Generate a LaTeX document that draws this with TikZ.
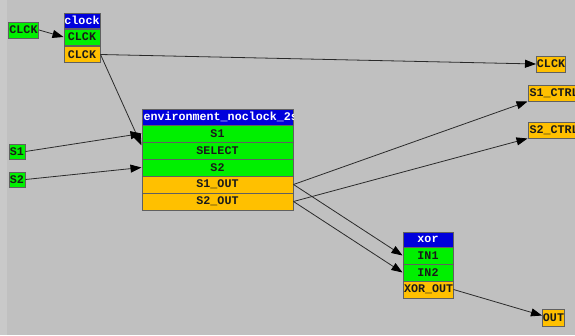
\documentclass[tikz,border=0pt]{standalone}
\usepackage{fontspec}
\setmonofont{Liberation Mono}
\usetikzlibrary{arrows.meta}
\definecolor{bg}{HTML}{C0C0C0}
\definecolor{bgl}{HTML}{C9C9C9}
\definecolor{pgreen}{HTML}{00F000}
\definecolor{porange}{HTML}{FFC000}
\definecolor{pblue}{HTML}{0000DC}
\definecolor{pframe}{HTML}{606060}
\definecolor{ptext}{HTML}{1A1A1A}
\definecolor{pline}{HTML}{2A2A2A}
\tikzset{
  cell/.style={draw=pframe, line width=1pt, inner sep=0pt, anchor=center,
    font=\ttfamily\bfseries\fontsize{11.7}{12}\selectfont, text=ptext},
  gcell/.style={cell, fill=pgreen},
  ocell/.style={cell, fill=porange},
  hcell/.style={cell, fill=pblue, text=white},
  wire/.style={draw=pline, line width=0.8pt},
  awire/.style={wire, -{Triangle[length=11pt,width=8pt,black]}},
}
\begin{document}
\begin{tikzpicture}[x=1pt,y=-1pt]
\fill[bg] (0,0) rectangle (575,335);
\fill[bgl] (0,0) rectangle (7,335);
\useasboundingbox (0,0) rectangle (575,335);

% inputs
\node[gcell, minimum width=30pt, minimum height=16pt] (inclck) at (23.5,30) {CLCK};
\node[gcell, minimum width=16pt, minimum height=15pt] (ins1) at (17,151.5) {S1};
\node[gcell, minimum width=16pt, minimum height=15pt] (ins2) at (17,179.5) {S2};

% clock block
\node[hcell, minimum width=36pt, minimum height=15pt] (clkh) at (82,20.5) {clock};
\node[gcell, minimum width=36pt, minimum height=16pt] (clkin) at (82,37) {CLCK};
\node[ocell, minimum width=36pt, minimum height=16pt] (clkout) at (82,54.5) {CLCK};

% environment block
\node[hcell, minimum width=151pt, minimum height=16pt] (envh) at (217.5,117) {};
\begin{scope}
  \clip (envh.north west) rectangle (envh.south east);
  \node[cell, draw=none, text=white, anchor=west] (envhtext) at (143,116.5) {environment\_noclock\_2s};
\end{scope}
\node[gcell, minimum width=151pt, minimum height=17pt] (envs1) at (217.5,133.5) {S1};
\node[gcell, minimum width=151pt, minimum height=17pt] (envsel) at (217.5,150.5) {SELECT};
\node[gcell, minimum width=151pt, minimum height=17pt] (envs2) at (217.5,167.5) {S2};
\node[ocell, minimum width=151pt, minimum height=17pt] (envs1o) at (217.5,184.5) {S1\_OUT};
\node[ocell, minimum width=151pt, minimum height=17pt] (envs2o) at (217.5,201.5) {S2\_OUT};

% xor block
\node[hcell, minimum width=50pt, minimum height=15pt] (xorh) at (428,239.5) {xor};
\node[gcell, minimum width=50pt, minimum height=17pt] (xorin1) at (428,255.5) {IN1};
\node[gcell, minimum width=50pt, minimum height=17pt] (xorin2) at (428,272.5) {IN2};
\node[ocell, minimum width=50pt, minimum height=17pt] (xorout) at (428,289.5) {};
\begin{scope}
  \clip (xorout.north west) rectangle (xorout.south east);
  \node[cell, draw=none, anchor=west] (xorouttext) at (403.5,289.5) {XOR\_OUT};
\end{scope}

% outputs
\node[ocell, minimum width=29pt, minimum height=16pt] (outclck) at (551,64) {CLCK};
\node[ocell, inner xsep=1.5pt, minimum height=16pt, anchor=west] (outs1) at (527.5,93) {S1\_CTRL};
\node[ocell, inner xsep=1.5pt, minimum height=16pt, anchor=west] (outs2) at (527.5,130) {S2\_CTRL};
\node[ocell, minimum width=22pt, minimum height=17pt] (outout) at (553.5,317.5) {OUT};

% connectors
\draw[awire] (inclck.east) -- (clkin.west);
\draw[awire] (clkout.east) -- (outclck.west);
\draw[awire] (clkout.east) -- ([yshift=-4pt]envsel.north west);
\draw[awire] (ins1.east) -- (envs1.west);
\draw[awire] (ins2.east) -- (envs2.west);
\draw[awire] (envs1o.east) -- (outs1.south west);
\draw[awire] (envs1o.east) -- (xorin1.west);
\draw[awire] (envs2o.east) -- (outs2.south west);
\draw[awire] (envs2o.east) -- (xorin2.west);
\draw[awire] (xorout.east) -- ([yshift=2pt]outout.west);
\end{tikzpicture}
\end{document}
